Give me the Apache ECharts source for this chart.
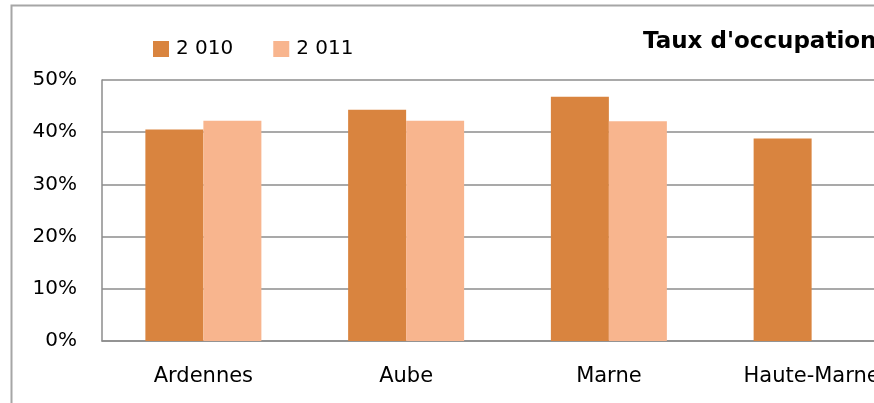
<!DOCTYPE html>
<html>
<head>
<meta charset="utf-8">
<script src="https://cdn.jsdelivr.net/npm/echarts@6/dist/echarts.min.js"></script>
<style>
html,body{margin:0;padding:0;background:#fff;}
#chart{width:874px;height:403px;}
</style>
</head>
<body>
<div id="chart"></div>
<script>
const categories = ['Ardennes', 'Aube', 'Marne', 'Haute-Marne'];
const seriesNames = ['2 010', '2 011'];
const values2010 = [0.405, 0.443, 0.468, 0.388];
const values2011 = [0.422, 0.422, 0.421, null];
const yTicks = [0, 0.1, 0.2, 0.3, 0.4, 0.5];
const titleText = "Taux d'occupation";

const FONT = 'DejaVu Sans';
const chart = echarts.init(document.getElementById('chart'), null, {renderer: 'canvas'});
chart.setOption({
  animation: false,
  backgroundColor: '#fff',
  graphic: [{
    type: 'rect', left: 9, top: 3, shape: {x: 0, y: 0, width: 1000, height: 500},
    style: {fill: 'none', stroke: '#a6a6a6', lineWidth: 2}, z: -1
  }],
  title: {
    text: titleText, left: 643, top: 31, padding: 0,
    textStyle: {fontFamily: FONT, fontWeight: 'bold', fontSize: 23, color: '#000'}
  },
  legend: {
    data: seriesNames, left: 153, top: 39, padding: 0, itemWidth: 16, itemHeight: 16, itemGap: 40,
    icon: 'rect',
    textStyle: {fontFamily: FONT, fontSize: 20, color: '#000', padding: [0, 0, 0, 2]}
  },
  grid: {left: 102, width: 811, top: 80, height: 261, containLabel: false, outerBoundsMode: 'none'},
  xAxis: {
    type: 'category', data: categories,
    axisLine: {show: true, lineStyle: {color: '#8c8c8c', width: 1.5}},
    axisTick: {show: false},
    axisLabel: {fontFamily: FONT, fontSize: 21, color: '#000', margin: 25}
  },
  yAxis: {
    type: 'value', min: yTicks[0], max: yTicks[yTicks.length - 1], interval: 0.1,
    axisLine: {show: true, lineStyle: {color: '#8c8c8c', width: 1.5}},
    axisTick: {show: false},
    splitLine: {show: true, lineStyle: {color: '#8c8c8c', width: 1.5}},
    axisLabel: {
      fontFamily: FONT, fontSize: 20, color: '#000', margin: 25,
      formatter: v => Math.round(v * 100) + '%'
    }
  },
  series: [
    {name: seriesNames[0], type: 'bar', data: values2010, barWidth: 58, barGap: '0%',
     itemStyle: {color: '#D9843F'}},
    {name: seriesNames[1], type: 'bar', data: values2011, barWidth: 58, barGap: '0%',
     itemStyle: {color: '#F8B58E'}}
  ]
});
</script>
</body>
</html>
